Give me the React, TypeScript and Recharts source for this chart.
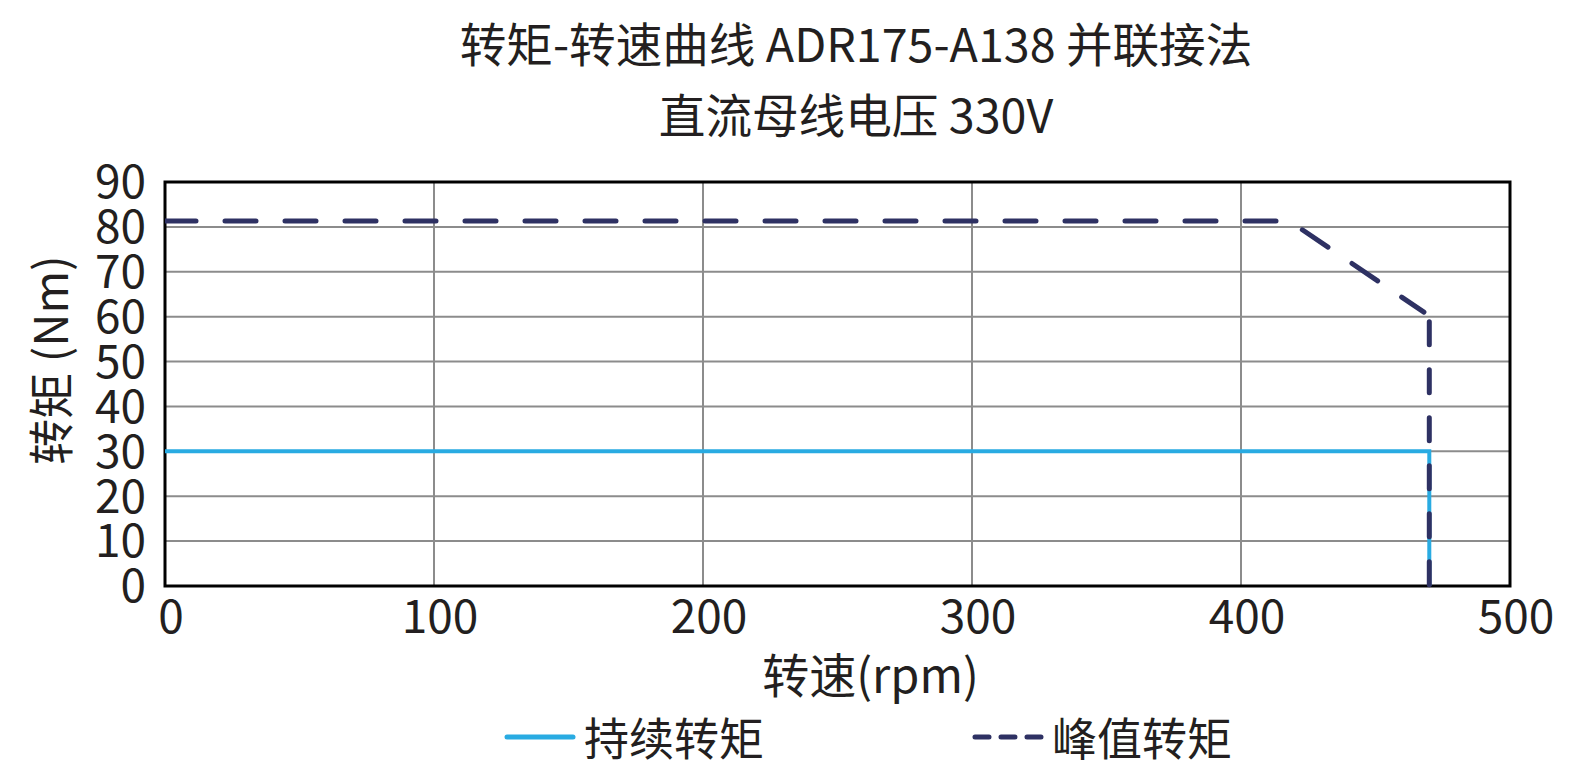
import { LineChart, Line, XAxis, YAxis, CartesianGrid, ReferenceArea, Label } from 'recharts';

document.body.style.margin = '0';

const FONT = '"Noto Sans CJK SC", "Noto Sans", sans-serif';
const TEXT = '#231f20';
const BLUE = '#29abe2';
const NAVY = '#2e3163';

const TITLE_1 = '转矩-转速曲线 ADR175-A138 并联接法';
const TITLE_2 = '直流母线电压 330V';
const X_LABEL = '转速(rpm)';
const Y_LABEL = '转矩 (Nm)';

const X_TICKS = [0, 100, 200, 300, 400, 500];
const Y_TICKS = [0, 10, 20, 30, 40, 50, 60, 70, 80, 90];

// continuous torque curve
const contRpm = [0, 470, 470];
const contTorque = [30, 30, 0];

// peak torque curve: flat + field weakening slope, then vertical drop
const peakRpm = [0, 418, 468];
const peakTorque = [81.3, 81.3, 61];
const dropRpm = [470, 470];
const dropTorque = [60, 0];

const toPoints = (xs: number[], ys: number[]) => xs.map((rpm, i) => ({ rpm, torque: ys[i] }));

const contData = toPoints(contRpm, contTorque);
const peakData = toPoints(peakRpm, peakTorque);
const dropData = toPoints(dropRpm, dropTorque);

const LEGEND = [
    { name: '持续转矩', color: BLUE, dash: undefined, x: 504 },
    { name: '峰值转矩', color: NAVY, dash: '14 12', x: 972 },
];

// x tick labels sit a little right of their grid line in the original
const XTick = ({ x, y, payload }: any) => (
    <text x={x + 6} y={y} dy="0.71em" textAnchor="middle" fill={TEXT} fontSize={46} fontFamily={FONT}>
        {payload.value}
    </text>
);

export default function App() {
    return (
        <div style={{ position: 'relative', width: 1580, height: 782, background: '#fff', fontFamily: FONT, color: TEXT }}>
            {[TITLE_1, TITLE_2].map((t, i) => (
                <div
                    key={t}
                    style={{
                        position: 'absolute',
                        left: 856,
                        top: (i === 0 ? 42 : 113) - 30,
                        transform: 'translateX(-50%)',
                        fontSize: 46.6,
                        lineHeight: '60px',
                        whiteSpace: 'nowrap',
                    }}
                >
                    {t}
                </div>
            ))}

            <div style={{ position: 'absolute', left: 0, top: 0 }}>
                <LineChart width={1580} height={782} margin={{ top: 182, right: 70, left: 105, bottom: 146 }}>
                    <CartesianGrid stroke="#8c8c8c" strokeWidth={2} />
                    <XAxis
                        type="number"
                        dataKey="rpm"
                        domain={[0, 500]}
                        ticks={X_TICKS}
                        allowDataOverflow
                        height={50}
                        tickSize={0}
                        tickMargin={14}
                        axisLine={false}
                        tick={<XTick />}
                    >
                        <Label
                            content={({ viewBox }: any) => (
                                <text
                                    x={viewBox.x + viewBox.width / 2 + 33}
                                    y={672}
                                    textAnchor="middle"
                                    dominantBaseline="central"
                                    fill={TEXT}
                                    fontSize={47}
                                    fontFamily={FONT}
                                >
                                    {X_LABEL}
                                </text>
                            )}
                        />
                    </XAxis>
                    <YAxis
                        type="number"
                        domain={[0, 90]}
                        ticks={Y_TICKS}
                        interval={0}
                        width={60}
                        tickSize={0}
                        tickMargin={19}
                        axisLine={false}
                        tick={{ fill: TEXT, fontSize: 46, fontFamily: FONT }}
                    >
                        <Label
                            content={() => (
                                <text
                                    x={48}
                                    y={360}
                                    transform="rotate(-90 48 360)"
                                    textAnchor="middle"
                                    dominantBaseline="central"
                                    fill={TEXT}
                                    fontSize={46}
                                    fontFamily={FONT}
                                >
                                    {Y_LABEL}
                                </text>
                            )}
                        />
                    </YAxis>
                    <Line
                        data={contData}
                        dataKey="torque"
                        type="linear"
                        stroke={BLUE}
                        strokeWidth={4}
                        dot={false}
                        activeDot={false}
                        isAnimationActive={false}
                    />
                    <Line
                        data={peakData}
                        dataKey="torque"
                        type="linear"
                        stroke={NAVY}
                        strokeWidth={5}
                        strokeDasharray="31 29"
                        strokeLinecap="round"
                        dot={false}
                        activeDot={false}
                        isAnimationActive={false}
                    />
                    <Line
                        data={dropData}
                        dataKey="torque"
                        type="linear"
                        stroke={NAVY}
                        strokeWidth={5}
                        strokeDasharray="23 25"
                        strokeDashoffset={-5}
                        strokeLinecap="round"
                        dot={false}
                        activeDot={false}
                        isAnimationActive={false}
                    />
                    <ReferenceArea x1={0} x2={500} y1={0} y2={90} fill="none" stroke="#000" strokeWidth={3} ifOverflow="visible" />
                </LineChart>
            </div>

            {LEGEND.map((l) => (
                <div
                    key={l.name}
                    style={{ position: 'absolute', left: l.x, top: 737 - 30, height: 60, display: 'flex', alignItems: 'center' }}
                >
                    <svg width={72} height={10} style={{ marginRight: 8 }}>
                        <line
                            x1={3}
                            y1={5}
                            x2={69}
                            y2={5}
                            stroke={l.color}
                            strokeWidth={5}
                            strokeLinecap="round"
                            strokeDasharray={l.dash}
                        />
                    </svg>
                    <span style={{ fontSize: 45, lineHeight: '60px', whiteSpace: 'nowrap' }}>{l.name}</span>
                </div>
            ))}
        </div>
    );
}
